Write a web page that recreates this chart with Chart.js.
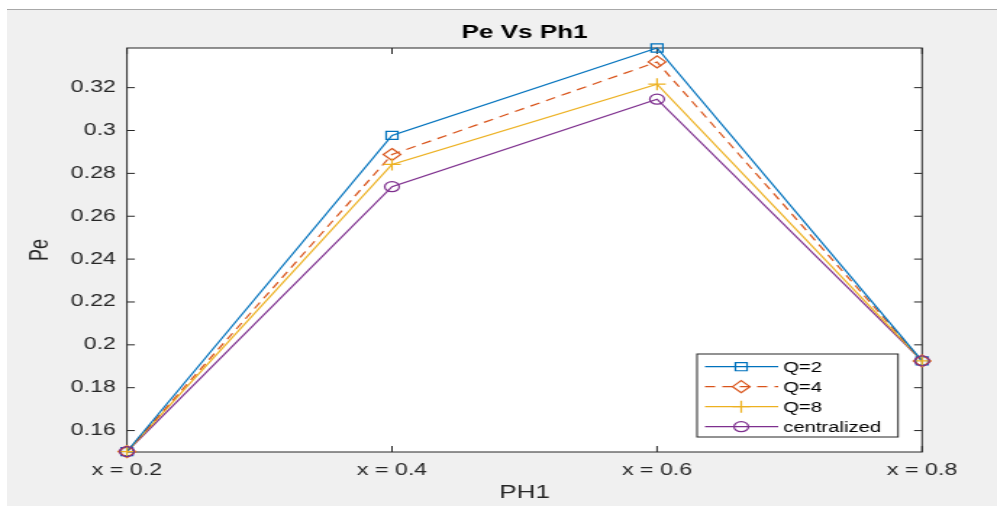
<!DOCTYPE html>
<html>
<head>
<meta charset="utf-8">
<script src="https://cdn.jsdelivr.net/npm/chart.js@4.4.0/dist/chart.umd.min.js"></script>
<style>
  html, body { margin: 0; padding: 0; background: #fff; }
  #wrap { position: relative; width: 997px; height: 506px; overflow: hidden; background: #fff; }
  #panel { position: absolute; left: 7px; top: 9px; width: 990px; height: 496px; background: #f0f0f0; border-top: 1px solid #a8a8a8; }
  #stretch { position: absolute; left: 0; top: 0; width: 688px; height: 506px; transform: scaleX(1.4491); transform-origin: 0 0; }
</style>
</head>
<body>
<div id="wrap">
  <div id="panel"></div>
  <div id="stretch"><canvas id="chart" width="688" height="506"></canvas></div>
</div>
<script>
const categories = ['x = 0.2', 'x = 0.4', 'x = 0.6', 'x = 0.8'];
const q2Values = [0.1502, 0.2977, 0.3385, 0.1925];
const q4Values = [0.1502, 0.2888, 0.3320, 0.1925];
const q8Values = [0.1502, 0.2842, 0.3216, 0.1925];
const centralizedValues = [0.1502, 0.2738, 0.3146, 0.1925];
const yTickValues = [0.16, 0.18, 0.2, 0.22, 0.24, 0.26, 0.28, 0.3, 0.32];
const yMin = 0.15;
const yMax = 0.3385;

const axisColor = '#262626';
const textColor = '#262626';
const fontFamily = '"Liberation Sans", Arial, Helvetica, sans-serif';

const series = [
  { label: 'Q=2', data: q2Values, color: '#0072BD', marker: 'rect', dash: [] },
  { label: 'Q=4', data: q4Values, color: '#D95319', marker: 'rectRot', dash: [7, 5] },
  { label: 'Q=8', data: q8Values, color: '#EDB120', marker: 'cross', dash: [] },
  { label: 'centralized', data: centralizedValues, color: '#7E2F8E', marker: 'circle', dash: [] },
];

const markerRadius = { rect: 5.7, rectRot: 6, cross: 6, circle: 5 };

function drawMarker(ctx, style, x, y, color) {
  const r = markerRadius[style];
  ctx.save();
  ctx.strokeStyle = color;
  ctx.lineWidth = 1.2;
  ctx.setLineDash([]);
  ctx.beginPath();
  if (style === 'rect') {
    const s = r * Math.SQRT1_2;
    ctx.rect(x - s, y - s, 2 * s, 2 * s);
  } else if (style === 'rectRot') {
    ctx.moveTo(x, y - r);
    ctx.lineTo(x + r, y);
    ctx.lineTo(x, y + r);
    ctx.lineTo(x - r, y);
    ctx.closePath();
  } else if (style === 'cross') {
    ctx.moveTo(x, y - r);
    ctx.lineTo(x, y + r);
    ctx.moveTo(x - r, y);
    ctx.lineTo(x + r, y);
  } else {
    ctx.arc(x, y, r, 0, Math.PI * 2);
  }
  ctx.stroke();
  ctx.restore();
}

// white plot area, box and inward ticks like matlab
const axesBoxPlugin = {
  id: 'axesBox',
  beforeDraw(chart) {
    const { ctx, chartArea: a } = chart;
    ctx.save();
    ctx.fillStyle = '#ffffff';
    ctx.fillRect(a.left, a.top, a.right - a.left, a.bottom - a.top);
    ctx.restore();
  },
  beforeDatasetsDraw(chart) {
    const { ctx, chartArea: a, scales } = chart;
    ctx.save();
    ctx.strokeStyle = axisColor;
    ctx.lineWidth = 1;
    ctx.strokeRect(a.left, a.top, a.right - a.left, a.bottom - a.top);
    ctx.beginPath();
    categories.forEach((c, i) => {
      const px = scales.x.getPixelForValue(i);
      ctx.moveTo(px, a.bottom);
      ctx.lineTo(px, a.bottom - 6);
      ctx.moveTo(px, a.top);
      ctx.lineTo(px, a.top + 6);
    });
    yTickValues.forEach(v => {
      const py = scales.y.getPixelForValue(v);
      ctx.moveTo(a.left, py);
      ctx.lineTo(a.left + 5.5, py);
      ctx.moveTo(a.right, py);
      ctx.lineTo(a.right - 5.5, py);
    });
    ctx.stroke();
    ctx.restore();
  },
  afterDatasetsDraw(chart) {
    const { ctx, scales } = chart;
    series.forEach(s => {
      s.data.forEach((v, i) => {
        drawMarker(ctx, s.marker, scales.x.getPixelForValue(i), scales.y.getPixelForValue(v), s.color);
      });
    });
  },
  afterDraw(chart) {
    const { ctx, chartArea: a } = chart;
    const w = 138.7, h = 83;
    const x0 = a.right - 16.6 - w;
    const y0 = a.bottom - 15 - h;
    ctx.save();
    ctx.fillStyle = '#ffffff';
    ctx.fillRect(x0, y0, w, h);
    ctx.strokeStyle = axisColor;
    ctx.lineWidth = 1;
    ctx.strokeRect(x0, y0, w, h);
    ctx.font = '14px ' + fontFamily;
    ctx.textBaseline = 'middle';
    series.forEach((s, i) => {
      const y = y0 + 12.7 + i * 20;
      ctx.strokeStyle = s.color;
      ctx.lineWidth = 1.2;
      ctx.setLineDash(s.dash);
      ctx.beginPath();
      ctx.moveTo(x0 + 5.5, y);
      ctx.lineTo(x0 + 56, y);
      ctx.stroke();
      drawMarker(ctx, s.marker, x0 + 30.5, y, s.color);
      ctx.fillStyle = '#000000';
      ctx.fillText(s.label, x0 + 59.4, y + 1);
    });
    ctx.restore();
  },
};

const config = {
  type: 'line',
  data: {
    labels: categories,
    datasets: series.map(s => ({
      label: s.label,
      data: s.data,
      borderColor: s.color,
      borderWidth: 1.2,
      borderDash: s.dash,
      pointRadius: 0,
      fill: false,
      tension: 0,
      clip: false,
    })),
  },
  options: {
    responsive: false,
    animation: false,
    layout: { padding: { left: 0, right: 51.7, top: 0, bottom: 0 } },
    plugins: {
      legend: { display: false },
      tooltip: { enabled: false },
      title: {
        display: true,
        text: 'Pe Vs Ph1',
        fullSize: false,
        color: '#000000',
        font: { family: fontFamily, size: 18, weight: 'bold', lineHeight: 1.2 },
        padding: { top: 22.5, bottom: 3.9 },
      },
    },
    scales: {
      x: {
        type: 'category',
        offset: false,
        grid: { display: false, drawTicks: false },
        border: { display: false },
        ticks: {
          color: textColor,
          padding: 9,
          maxRotation: 0,
          font: { family: fontFamily, size: 16 },
        },
        title: {
          display: true,
          text: 'PH1',
          color: textColor,
          font: { family: fontFamily, size: 18, lineHeight: 1.2 },
          padding: { top: 0, bottom: 2.2 },
        },
        afterFit(scale) { scale.height = 54; },
      },
      y: {
        type: 'linear',
        min: yMin,
        max: yMax,
        grid: { display: false, drawTicks: false },
        border: { display: false },
        afterBuildTicks(scale) {
          scale.ticks = yTickValues.map(v => ({ value: v }));
        },
        ticks: {
          color: textColor,
          padding: 7.6,
          font: { family: fontFamily, size: 16 },
          callback: v => String(v),
        },
        title: {
          display: true,
          text: 'Pe',
          color: textColor,
          font: { family: fontFamily, size: 18, lineHeight: 1.2 },
          padding: { top: 16.8, bottom: 0 },
        },
        afterFit(scale) { scale.width = 87.6; },
      },
    },
  },
  plugins: [axesBoxPlugin],
};

new Chart(document.getElementById('chart'), config);
</script>
</body>
</html>
